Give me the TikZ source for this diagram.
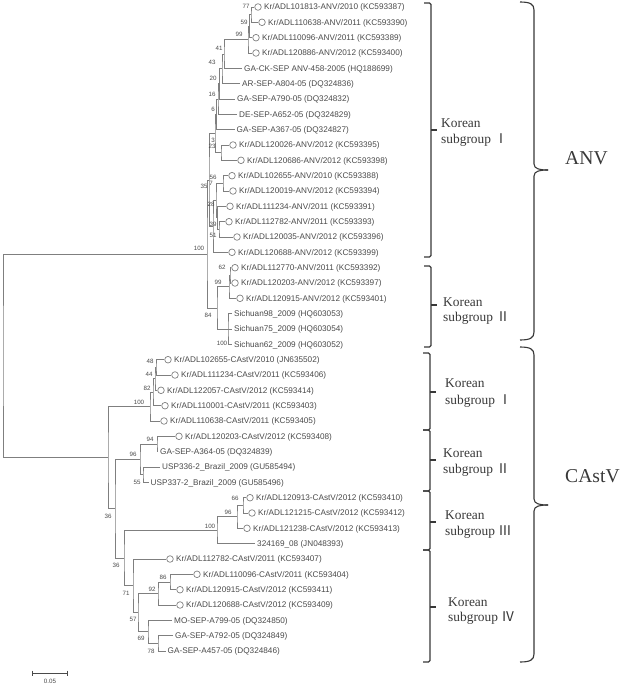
\documentclass[tikz,border=0pt]{standalone}
\usepackage{fontspec}
\setmainfont{Liberation Serif}
\setsansfont{Liberation Sans}
\newfontfamily\cjk{Noto Sans CJK SC}
\usetikzlibrary{calc}
\definecolor{treeline}{HTML}{7F7F7F}
\definecolor{labeltxt}{HTML}{4A4A4A}
\definecolor{brk}{HTML}{383838}
\tikzset{
  branch/.style={draw=treeline, line width=0.8pt},
  circ/.style={circle, draw=treeline, line width=0.7pt, minimum size=6.6pt, inner sep=0pt},
  lbl/.style={anchor=base west, inner sep=0pt, font=\sffamily\fontsize{8.2}{9}\selectfont, text=labeltxt},
  bs/.style={inner sep=0pt, font=\sffamily\fontsize{6.2}{7}\selectfont, text=labeltxt},
  grp/.style={anchor=base west, inner sep=0pt, font=\fontsize{13.4}{15}\selectfont, text=brk},
  virus/.style={anchor=base west, inner sep=0pt, font=\fontsize{19.6}{22}\selectfont, text=brk},
  brkline/.style={draw=brk, line width=1.1pt},
}
\newcommand{\LeafC}[4]{\coordinate (#1) at (#2,#3);
  \node[circ] (#1c) at ($(#1)+(4.5,0)$) {};
  \node[lbl] (#1t) at ($(#1)+(10.5,2.9)$) {#4};}
\newcommand{\LeafN}[4]{\coordinate (#1) at (#2,#3);
  \node[lbl] (#1t) at ($(#1)+(2,2.9)$) {#4};}
\newcommand{\Jn}[3]{\draw[branch] (#2) -| (#1) |- (#3);}
\newcommand{\GrpBrace}[4]{%
  \draw[brkline, rounded corners=1.5pt] (#1-7,#2) -- (#1,#2) -- (#1,#3) -- (#1-7,#3);
  \draw[brkline] (#1,#4) -- (#1+6,#4);}
\newcommand{\BigBrace}[4]{%
  \draw[brkline] (#1-14,#2) .. controls (#1-4,#2) and (#1,#2+2) .. (#1,#2+8) -- (#1,#4-6)
    .. controls (#1,#4-1) and (#1+6,#4) .. (#1+14,#4);
  \draw[brkline] (#1+14,#4) .. controls (#1+6,#4) and (#1,#4+1) .. (#1,#4+6) -- (#1,#3-8)
    .. controls (#1,#3-2) and (#1-4,#3) .. (#1-14,#3);}
\begin{document}
\begin{tikzpicture}[x=1pt,y=-1pt]
\useasboundingbox (0,0) rectangle (621,684);
% ---------------- leaves: ANV ----------------
\LeafC{l1}{253.5}{7.0}{Kr/ADL101813-ANV/2010 (KC593387)}
\LeafC{l2}{257.5}{22.3}{Kr/ADL110638-ANV/2011 (KC593390)}
\LeafC{l3}{251.5}{37.7}{Kr/ADL110096-ANV/2011 (KC593389)}
\LeafC{l4}{251.5}{53.0}{Kr/ADL120886-ANV/2012 (KC593400)}
\LeafN{l5}{242}{68.3}{GA-CK-SEP ANV-458-2005 (HQ188699)}
\LeafN{l6}{240}{83.7}{AR-SEP-A804-05 (DQ324836)}
\LeafN{l7}{235}{99.0}{GA-SEP-A790-05 (DQ324832)}
\LeafN{l8}{237}{114.3}{DE-SEP-A652-05 (DQ324829)}
\LeafN{l9}{234.5}{129.7}{GA-SEP-A367-05 (DQ324827)}
\LeafC{l10}{228.5}{145.0}{Kr/ADL120026-ANV/2012 (KC593395)}
\LeafC{l11}{236.5}{160.3}{Kr/ADL120686-ANV/2012 (KC593398)}
\LeafC{l12}{227.5}{175.7}{Kr/ADL102655-ANV/2010 (KC593388)}
\LeafC{l13}{228.5}{191.0}{Kr/ADL120019-ANV/2012 (KC593394)}
\LeafC{l14}{225.5}{206.3}{Kr/ADL111234-ANV/2011 (KC593391)}
\LeafC{l15}{224.5}{221.7}{Kr/ADL112782-ANV/2011 (KC593393)}
\LeafC{l16}{232.5}{237.0}{Kr/ADL120035-ANV/2012 (KC593396)}
\LeafC{l17}{227.5}{252.3}{Kr/ADL120688-ANV/2012 (KC593399)}
\LeafC{l18}{230.5}{267.7}{Kr/ADL112770-ANV/2011 (KC593392)}
\LeafC{l19}{230.5}{283.0}{Kr/ADL120203-ANV/2012 (KC593397)}
\LeafC{l20}{235.5}{298.3}{Kr/ADL120915-ANV/2012 (KC593401)}
\LeafN{l21}{232}{313.7}{Sichuan98\_2009 (HQ603053)}
\LeafN{l22}{232}{329.0}{Sichuan75\_2009 (HQ603054)}
\LeafN{l23}{232}{344.3}{Sichuan62\_2009 (HQ603052)}
% ---------------- leaves: CAstV ----------------
\LeafC{l24}{163.5}{359.7}{Kr/ADL102655-CAstV/2010 (JN635502)}
\LeafC{l25}{170.5}{375.0}{Kr/ADL111234-CAstV/2011 (KC593406)}
\LeafC{l26}{156.5}{390.3}{Kr/ADL122057-CAstV/2012 (KC593414)}
\LeafC{l27}{160.5}{405.7}{Kr/ADL110001-CAstV/2011 (KC593403)}
\LeafC{l28}{159.5}{421.0}{Kr/ADL110638-CAstV/2011 (KC593405)}
\LeafC{l29}{174.5}{436.3}{Kr/ADL120203-CAstV/2012 (KC593408)}
\LeafN{l30}{158}{451.7}{GA-SEP-A364-05 (DQ324839)}
\LeafN{l31}{160}{467.0}{USP336-2\_Brazil\_2009 (GU585494)}
\LeafN{l32}{148.5}{482.3}{USP337-2\_Brazil\_2009 (GU585496)}
\LeafC{l33}{245.5}{497.7}{Kr/ADL120913-CAstV/2012 (KC593410)}
\LeafC{l34}{247.5}{513.0}{Kr/ADL121215-CAstV/2012 (KC593412)}
\LeafC{l35}{242.5}{528.3}{Kr/ADL121238-CAstV/2012 (KC593413)}
\LeafN{l36}{255}{543.7}{324169\_08 (JN048393)}
\LeafC{l37}{165.5}{559.0}{Kr/ADL112782-CAstV/2011 (KC593407)}
\LeafC{l38}{192.5}{574.3}{Kr/ADL110096-CAstV/2011 (KC593404)}
\LeafC{l39}{175.5}{589.7}{Kr/ADL120915-CAstV/2012 (KC593411)}
\LeafC{l40}{175.5}{605.0}{Kr/ADL120688-CAstV/2012 (KC593409)}
\LeafN{l41}{172}{620.3}{MO-SEP-A799-05 (DQ324850)}
\LeafN{l42}{173}{635.7}{GA-SEP-A792-05 (DQ324849)}
\LeafN{l43}{165.5}{651.0}{GA-SEP-A457-05 (DQ324846)}
% ---------------- internal nodes ----------------
\coordinate (nA) at (251,14.65);
\coordinate (nB) at (249.5,26.2);
\coordinate (nC) at (248,39.6);
\coordinate (nD) at (224,54);
\coordinate (nE) at (222,68.8);
\coordinate (nF) at (219.5,83.9);
\coordinate (nG) at (218,99.1);
\coordinate (nH) at (216.5,114.4);
\coordinate (n1011) at (221,152.7);
\coordinate (nI) at (215,133.5);
\coordinate (n1213) at (223,183.3);
\coordinate (n1516) at (219,229.3);
\coordinate (n14) at (217.5,217.8);
\coordinate (n28) at (216,200.6);
\coordinate (nX) at (213,226.5);
\coordinate (nSG1) at (209,180);
\coordinate (nJ) at (230,275.3);
\coordinate (nK) at (229,286.8);
\coordinate (nSich) at (228,329);
\coordinate (n84) at (217,307.9);
\coordinate (nANV) at (207,254);
\coordinate (n48) at (156,367.3);
\coordinate (n44) at (155,378.8);
\coordinate (n82) at (153,392.3);
\coordinate (nC1) at (150,406.7);
\coordinate (n94) at (157,444);
\coordinate (n55) at (143,474.7);
\coordinate (n96) at (140,459.3);
\coordinate (n66) at (243,505.3);
\coordinate (n96b) at (237,516.8);
\coordinate (nSG3) at (217,530.3);
\coordinate (n86) at (170,582);
\coordinate (n92) at (158,593.5);
\coordinate (n78) at (158,643.3);
\coordinate (n69) at (148,631.8);
\coordinate (n57) at (138,612.7);
\coordinate (n71) at (133,585.8);
\coordinate (n36b) at (124,558);
\coordinate (n36a) at (115,508.7);
\coordinate (nCAstV) at (108,457.7);
\coordinate (nRoot) at (3,355.8);
% ---------------- branches ----------------
\Jn{nA}{l1}{l2}
\Jn{nB}{nA}{l3}
\Jn{nC}{nB}{l4}
\Jn{nD}{nC}{l5}
\Jn{nE}{nD}{l6}
\Jn{nF}{nE}{l7}
\Jn{nG}{nF}{l8}
\Jn{nH}{nG}{l9}
\Jn{n1011}{l10}{l11}
\Jn{nI}{nH}{n1011}
\Jn{n1213}{l12}{l13}
\Jn{n1516}{l15}{l16}
\Jn{n14}{l14}{n1516}
\Jn{n28}{n1213}{n14}
\Jn{nX}{n28}{l17}
\Jn{nSG1}{nI}{nX}
\Jn{nJ}{l18}{l19}
\Jn{nK}{nJ}{l20}
\Jn{nSich}{l21}{l23}
\draw[branch] (l22) -| (nSich);
\Jn{n84}{nK}{nSich}
\Jn{nANV}{nSG1}{n84}
\Jn{n48}{l24}{l25}
\Jn{n44}{n48}{l26}
\Jn{n82}{n44}{l27}
\Jn{nC1}{n82}{l28}
\Jn{n94}{l29}{l30}
\Jn{n55}{l31}{l32}
\Jn{n96}{n94}{n55}
\Jn{n66}{l33}{l34}
\Jn{n96b}{n66}{l35}
\Jn{nSG3}{n96b}{l36}
\Jn{n86}{l38}{l39}
\Jn{n92}{n86}{l40}
\Jn{n78}{l42}{l43}
\Jn{n69}{l41}{n78}
\Jn{n57}{n92}{n69}
\Jn{n71}{l37}{n57}
\Jn{n36b}{nSG3}{n71}
\Jn{n36a}{n96}{n36b}
\Jn{nCAstV}{nC1}{n36a}
\Jn{nRoot}{nANV}{nCAstV}
% ---------------- bootstrap values ----------------
\node[bs] (b1) at (246,6) {77};
\node[bs] (b2) at (244,22) {59};
\node[bs] (b3) at (239,34) {99};
\node[bs] (b4) at (219,48) {41};
\node[bs] (b5) at (212,62) {43};
\node[bs] (b6) at (213,78) {20};
\node[bs] (b7) at (212,94) {16};
\node[bs] (b8) at (213,109) {6};
\node[bs] (b9) at (213,140) {3};
\node[bs] (b10) at (212,146) {23};
\node[bs] (b11) at (213,177) {56};
\node[bs] (b12) at (211,183) {7};
\node[bs] (b13) at (204,186) {35};
\node[bs] (b14) at (211,204) {28};
\node[bs] (b15) at (213,224) {39};
\node[bs] (b16) at (213,235) {51};
\node[bs] (b17) at (199,248) {100};
\node[bs] (b18) at (222,267) {62};
\node[bs] (b19) at (218,282) {99};
\node[bs] (b20) at (208,315) {84};
\node[bs] (b21) at (222,343) {100};
\node[bs] (b22) at (150,361) {48};
\node[bs] (b23) at (149,374) {44};
\node[bs] (b24) at (147,388) {82};
\node[bs] (b25) at (139,402) {100};
\node[bs] (b26) at (150,439) {94};
\node[bs] (b27) at (133,454) {96};
\node[bs] (b28) at (137,482) {55};
\node[bs] (b29) at (235,498) {66};
\node[bs] (b30) at (228,512) {96};
\node[bs] (b31) at (210,526) {100};
\node[bs] (b32) at (108,516) {36};
\node[bs] (b33) at (116,565) {36};
\node[bs] (b34) at (163,577) {86};
\node[bs] (b35) at (152,589) {92};
\node[bs] (b36) at (126,593) {71};
\node[bs] (b37) at (133,619) {57};
\node[bs] (b38) at (141,638) {69};
\node[bs] (b39) at (151,651) {78};
% ---------------- scale bar ----------------
\coordinate (sb1) at (32,673);
\coordinate (sb2) at (67,673);
\draw[draw=labeltxt, line width=0.8pt] (sb1) -- (sb2);
\draw[draw=labeltxt, line width=0.8pt] ($(sb1)+(0,-2.5)$) -- ($(sb1)+(0,2.5)$);
\draw[draw=labeltxt, line width=0.8pt] ($(sb2)+(0,-2.5)$) -- ($(sb2)+(0,2.5)$);
\node[bs] (sbt) at (50,681) {0.05};
% ---------------- group brackets ----------------
\GrpBrace{431}{3}{257}{130}
\GrpBrace{431}{266}{347}{305}
\GrpBrace{430}{353}{430}{392}
\GrpBrace{430}{430}{491}{460}
\GrpBrace{430}{491}{550}{522}
\GrpBrace{430}{550}{662}{607}
\BigBrace{534}{2}{340}{170}
\BigBrace{534}{347}{662}{505}
\node[grp] (g1a) at (441,128) {Korean};
\node[grp] (g1b) at (441,144) {subgroup {\cjk Ⅰ}};
\node[grp] (g2a) at (443,306) {Korean};
\node[grp] (g2b) at (443,321.5) {subgroup {\cjk Ⅱ}};
\node[grp] (g3a) at (445,387.5) {Korean};
\node[grp] (g3b) at (445,404) {subgroup {\cjk Ⅰ}};
\node[grp] (g4a) at (443,457) {Korean};
\node[grp] (g4b) at (443,473) {subgroup {\cjk Ⅱ}};
\node[grp] (g5a) at (445,519) {Korean};
\node[grp] (g5b) at (445,535) {subgroup {\cjk Ⅲ}};
\node[grp] (g6a) at (448,606) {Korean};
\node[grp] (g6b) at (448,621) {subgroup {\cjk Ⅳ}};
\node[virus] (vANV) at (565,164.5) {ANV};
\node[virus] (vCAstV) at (565,482) {CAstV};
\end{tikzpicture}
\end{document}
